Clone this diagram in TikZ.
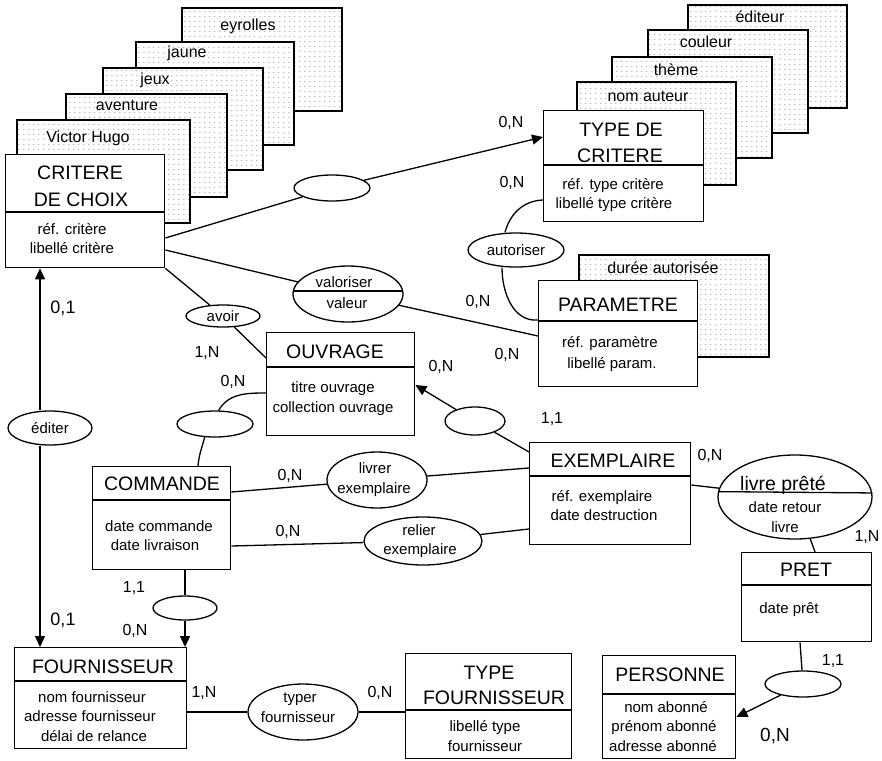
\documentclass[tikz,border=0pt]{standalone}
\usepackage{fontspec}
\setmainfont{Liberation Sans}
\usetikzlibrary{shapes.geometric,arrows.meta,patterns}
\pgfdeclarepatternformonly{cardpat}{\pgfpointorigin}{\pgfqpoint{4.6pt}{4.5pt}}{\pgfqpoint{4.6pt}{4.5pt}}{\pgfpathrectangle{\pgfpointorigin}{\pgfqpoint{1.5pt}{0.8pt}}\pgfusepath{fill}}
\tikzset{
 ent/.style={draw, line width=1.4pt, fill=white, inner sep=0, anchor=north west},
 card/.style={draw, line width=1.6pt, preaction={fill=white}, pattern=cardpat, pattern color=black!42, inner sep=0, anchor=north west},
 rel/.style={draw, ellipse, line width=1.3pt, fill=white, inner sep=0, font=\fontsize{15}{18}\selectfont},
 ttl/.style={inner sep=0, font=\fontsize{19.5}{22}\selectfont, text height=14pt, text depth=0pt},
 att/.style={inner sep=0, font=\fontsize{15}{18}\selectfont, text height=10.8pt, text depth=0pt},
 ctx/.style={inner sep=0, font=\fontsize{16}{19}\selectfont, text height=11.5pt, text depth=0pt},
 lab/.style={inner sep=0, font=\fontsize{16}{19}\selectfont, text height=11.5pt, text depth=0pt},
 blab/.style={inner sep=0, font=\fontsize{18}{21}\selectfont, text height=13pt, text depth=0pt},
 con/.style={line width=1.3pt},
 arr/.style={con, -{Triangle[length=11pt,width=10pt]}},
}
\begin{document}
\begin{tikzpicture}[x=1pt,y=-1pt]
\useasboundingbox (0,0) rectangle (882,760);
\fill[white] (0,0) rectangle (882,760);

% ---- cards behind CRITERE DE CHOIX
\node[card, minimum width=160pt, minimum height=103pt] (cEy) at (181,7) {};
\node[ctx] (tEy) at (248,25) {eyrolles};
\node[card, minimum width=158pt, minimum height=103pt] (cJa) at (135,41) {};
\node[ctx] (tJa) at (187,52) {jaune};
\node[card, minimum width=160pt, minimum height=102pt] (cJe) at (102,67) {};
\node[ctx] (tJe) at (155,79) {jeux};
\node[card, minimum width=161pt, minimum height=103pt] (cAv) at (65,93) {};
\node[ctx] (tAv) at (127,105) {aventure};
\node[card, minimum width=173pt, minimum height=103pt] (cVH) at (16,119) {};
\node[ctx] (tVH) at (88,137) {Victor Hugo};

% ---- cards behind TYPE DE CRITERE
\node[card, minimum width=159pt, minimum height=103pt] (cEd) at (687,4) {};
\node[ctx] (tEd) at (760,17) {éditeur};
\node[card, minimum width=160pt, minimum height=103pt] (cCo) at (647,29) {};
\node[ctx] (tCo) at (706,42) {couleur};
\node[card, minimum width=160pt, minimum height=101pt] (cTh) at (611,56) {};
\node[ctx] (tTh) at (676,70) {thème};
\node[card, minimum width=159pt, minimum height=103pt] (cNA) at (576,81) {};
\node[ctx] (tNA) at (648,96) {nom auteur};

% ---- card behind PARAMETRE
\node[card, minimum width=190pt, minimum height=102pt] (cDu) at (578,254) {};
\node[ctx] (tDu) at (663,268) {durée autorisée};

% ---- entities
\node[ent, minimum width=159pt, minimum height=113pt] (crit) at (5,154) {};
\draw[con] (crit.west |- 0,212) -- (crit.east |- 0,212);
\node[ttl] (critT1) at (80,172) {CRITERE};
\node[ttl] (critT2) at (81,199) {DE CHOIX};
\node[att] (critA1) at (72,229) {réf. critère};
\node[att] (critA2) at (72,248) {libellé critère};

\node[ent, minimum width=160pt, minimum height=111pt] (tdc) at (543,110) {};
\draw[con] (tdc.west |- 0,165) -- (tdc.east |- 0,165);
\node[ttl] (tdcT1) at (621,129) {TYPE DE};
\node[ttl] (tdcT2) at (620,155) {CRITERE};
\node[att] (tdcA1) at (613,184) {réf. type critère};
\node[att] (tdcA2) at (614,203) {libellé type critère};

\node[ent, minimum width=159pt, minimum height=106pt] (par) at (538,280) {};
\draw[con] (par.west |- 0,321) -- (par.east |- 0,321);
\node[ttl] (parT) at (618,304) {PARAMETRE};
\node[att] (parA1) at (610,342) {réf. paramètre};
\node[att] (parA2) at (612,363) {libellé param.};

\node[ent, minimum width=148pt, minimum height=103pt] (ouv) at (266,332) {};
\draw[con] (ouv.west |- 0,367) -- (ouv.east |- 0,367);
\node[ttl] (ouvT) at (335,351) {OUVRAGE};
\node[att] (ouvA1) at (333,387) {titre ouvrage};
\node[att] (ouvA2) at (333,407) {collection ouvrage};

\node[ent, minimum width=138pt, minimum height=103pt] (cmd) at (92,466) {};
\draw[con] (cmd.west |- 0,500) -- (cmd.east |- 0,500);
\node[ttl] (cmdT) at (162,483) {COMMANDE};
\node[att] (cmdA1) at (159,526) {date commande};
\node[att] (cmdA2) at (155,545) {date livraison};

\node[ent, minimum width=161pt, minimum height=102pt] (ex) at (529,442) {};
\draw[con] (ex.west |- 0,476) -- (ex.east |- 0,476);
\node[ttl] (exT) at (613,460) {EXEMPLAIRE};
\node[att] (exA1) at (602,496) {réf. exemplaire};
\node[att] (exA2) at (604,515) {date destruction};

\node[ent, minimum width=130pt, minimum height=89pt] (pret) at (741,552) {};
\draw[con] (pret.west |- 0,585) -- (pret.east |- 0,585);
\node[ttl] (pretT) at (806,569) {PRET};
\node[att] (pretA) at (789,608) {date prêt};

\node[ent, minimum width=133pt, minimum height=103pt] (pers) at (602,655) {};
\draw[con] (pers.west |- 0,694) -- (pers.east |- 0,694);
\node[ttl] (persT) at (670,674) {PERSONNE};
\node[att] (persA1) at (666,707) {nom abonné};
\node[att] (persA2) at (664,726) {prénom abonné};
\node[att] (persA3) at (663,746) {adresse abonné};

\node[ent, minimum width=172pt, minimum height=101pt] (four) at (14,647) {};
\draw[con] (four.west |- 0,681) -- (four.east |- 0,681);
\node[ttl] (fourT) at (103,666) {FOURNISSEUR};
\node[att] (fourA1) at (92,697) {nom fournisseur};
\node[att] (fourA2) at (90,716) {adresse fournisseur};
\node[att] (fourA3) at (94,736) {délai de relance};

\node[ent, minimum width=166pt, minimum height=105pt] (tf) at (405,653) {};
\draw[con] (tf.west |- 0,710) -- (tf.east |- 0,710);
\node[ttl] (tfT1) at (489,672) {TYPE};
\node[ttl] (tfT2) at (494,697) {FOURNISSEUR};
\node[att] (tfA1) at (485,726) {libellé type};
\node[att] (tfA2) at (485,746) {fournisseur};

% ---- relationships
\node[rel, minimum width=76pt, minimum height=26pt] (r1) at (332,188) {};
\node[rel, minimum width=96pt, minimum height=34pt] (aut) at (516,250) {autoriser};
\node[rel, minimum width=110pt, minimum height=56pt] (val) at (348,294) {};
\draw[con] (val.177) -- (val.3);
\node[att] (valT1) at (344,282) {valoriser};
\node[att] (valT2) at (347,303) {valeur};
\node[rel, minimum width=74pt, minimum height=22pt] (avoir) at (223,316) {avoir};
\node[rel, minimum width=76pt, minimum height=26pt] (roc) at (215,424) {};
\node[rel, minimum width=60pt, minimum height=28pt] (roe) at (475,421) {};
\node[rel, minimum width=100pt, minimum height=56pt] (liv) at (377,480) {};
\node[att] (livT1) at (375,468) {livrer};
\node[att] (livT2) at (374,488) {exemplaire};
\node[rel, minimum width=118pt, minimum height=48pt] (rel) at (423,541) {};
\node[att] (relT1) at (419,530) {relier};
\node[att] (relT2) at (420,549) {exemplaire};
\node[rel, minimum width=154pt, minimum height=84pt] (lp) at (795,497) {};
\draw[con] (lp.176.3) -- (lp.3.7);
\node[ttl] (lpT1) at (783,483) {livre prêté};
\node[att] (lpT2) at (785,507) {date retour};
\node[att] (lpT3) at (785,527) {livre};
\node[rel, minimum width=76pt, minimum height=26pt] (rpp) at (803,684) {};
\node[rel, minimum width=64pt, minimum height=24pt] (rcf) at (185,608) {};
\node[rel, minimum width=84pt, minimum height=34pt] (edi) at (50,428) {éditer};
\node[rel, minimum width=110pt, minimum height=56pt] (typ) at (303,712) {};
\node[att] (typT1) at (300,697) {typer};
\node[att] (typT2) at (298,717) {fournisseur};

% ---- connectors
\coordinate (edx) at (40,0);
\draw[con] (crit.east |- 0,238) -- (r1);
\draw[arr] (r1) -- (tdc.west |- 0,137);
\draw[con] (tdc.west |- 0,200) to[out=182,in=75] (aut.north -| 505,0);
\draw[con] (aut.south -| 502,0) to[out=-90,in=185] (par.west |- 0,320);
\draw[con] (crit.east |- 0,250) -- (val);
\draw[con] (val) -- (par.west |- 0,336);
\draw[con] (crit.south east) -- (avoir);
\draw[con] (avoir) -- (ouv.west |- 0,358);
\draw[con] (ouv.west |- 0,393) to[out=180,in=60] (roc.75);
\draw[con] (roc.232) to[out=255,in=85] (cmd.north -| 198,0);
\draw[arr] (roe) -- (ouv.east |- 0,385);
\draw[con] (roe) -- (ex.west |- 0,452);
\draw[con] (cmd.east |- 0,492) -- (liv);
\draw[con] (liv) -- (ex.west |- 0,468);
\draw[con] (cmd.east |- 0,546) -- (rel);
\draw[con] (rel) -- (ex.west |- 0,529);
\draw[con] (ex.east |- 0,485) -- (lp);
\draw[con] (lp) -- (pret.north -| 815,0);
\draw[con] (pret.south -| 800,0) -- (rpp);
\draw[arr] (rpp) -- (pers.east |- 0,717);
\draw[con] (cmd.south -| rcf) -- (rcf);
\draw[arr] (rcf) -- (four.north -| rcf);
\draw[arr] (edi.north -| edx) -- (crit.south -| edx);
\draw[arr] (edi.south -| edx) -- (four.north -| edx);
\draw[con] (four.east |- typ) -- (typ);
\draw[con] (typ) -- (tf.west |- typ);

% ---- cardinalities
\node[lab] (l1) at (511,122) {0,N};
\node[lab] (l2) at (512,182) {0,N};
\node[lab] (l3) at (478,301) {0,N};
\node[lab] (l4) at (507,354) {0,N};
\node[lab] (l5) at (207,352) {1,N};
\node[lab] (l6) at (233,381) {0,N};
\node[lab] (l7) at (441,366) {0,N};
\node[lab] (l8) at (552,418) {1,1};
\node[lab] (l9) at (290,475) {0,N};
\node[lab] (l10) at (288,531) {0,N};
\node[lab] (l11) at (710,455) {0,N};
\node[lab] (l12) at (867,536) {1,N};
\node[lab] (l13) at (833,660) {1,1};
\node[lab] (l14) at (134,587) {1,1};
\node[lab] (l15) at (135,630) {0,N};
\node[lab] (l16) at (204,692) {1,N};
\node[lab] (l17) at (380,692) {0,N};
\node[blab] (l18) at (63,307) {0,1};
\node[blab] (l19) at (63,619) {0,1};
\node[blab, font=\fontsize{19}{22}\selectfont, text height=13.6pt] (l20) at (775,735) {0,N};
\end{tikzpicture}
\end{document}
